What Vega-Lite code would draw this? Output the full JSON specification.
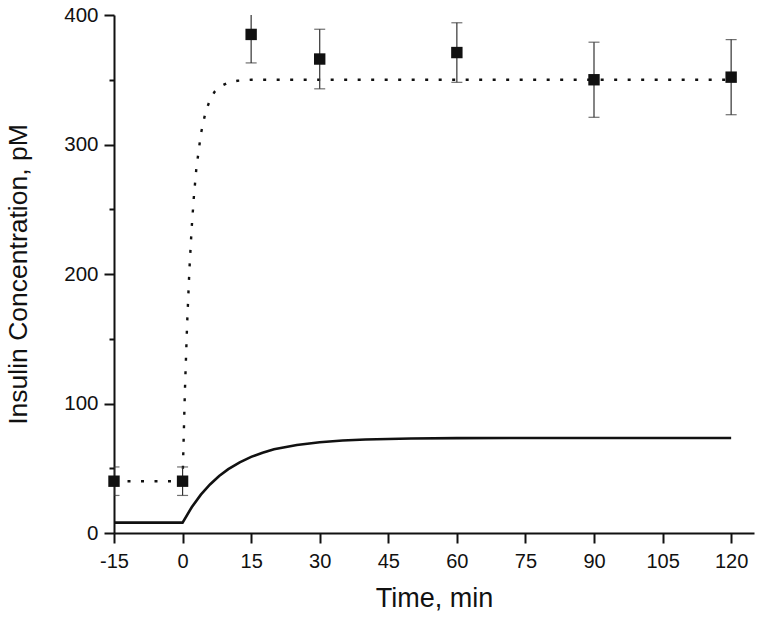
{
  "$schema": "https://vega.github.io/schema/vega-lite/v6.json",
  "autosize": "none",
  "width": 640,
  "height": 518,
  "padding": {"left": 114, "top": 15, "right": 8, "bottom": 87},
  "background": "white",
  "config": {
    "view": {"stroke": null}
  },
  "datasets": {
    "fast": [
      {"t": -15, "v": 40}, {"t": 0, "v": 40}, {"t": 0.5, "v": 108.6}, {"t": 1, "v": 161.9},
      {"t": 1.5, "v": 203.6}, {"t": 2, "v": 236}, {"t": 2.5, "v": 261}, {"t": 3, "v": 280.9},
      {"t": 4, "v": 308.1}, {"t": 5, "v": 324.6}, {"t": 6, "v": 334.6}, {"t": 7, "v": 340.7},
      {"t": 8, "v": 344.3}, {"t": 10, "v": 347.9}, {"t": 12, "v": 349.2}, {"t": 15, "v": 350},
      {"t": 120, "v": 350}
    ],
    "slow": [
      {"t": -15, "v": 8}, {"t": 0, "v": 8}, {"t": 2, "v": 19.9}, {"t": 4, "v": 29.6},
      {"t": 6, "v": 37.5}, {"t": 8, "v": 44}, {"t": 10, "v": 49.3}, {"t": 12.5, "v": 54.6},
      {"t": 15, "v": 58.8}, {"t": 17.5, "v": 62}, {"t": 20, "v": 64.6}, {"t": 25, "v": 68},
      {"t": 30, "v": 70.1}, {"t": 35, "v": 71.4}, {"t": 40, "v": 72.2}, {"t": 50, "v": 73},
      {"t": 60, "v": 73.3}, {"t": 80, "v": 73.4}, {"t": 120, "v": 73.4}
    ],
    "obs": [
      {"t": -15, "v": 40, "lo": 29, "hi": 51},
      {"t": 0, "v": 40, "lo": 29, "hi": 51},
      {"t": 15, "v": 385, "lo": 363, "hi": 408},
      {"t": 30, "v": 366, "lo": 343, "hi": 389},
      {"t": 60, "v": 371, "lo": 348, "hi": 394},
      {"t": 90, "v": 350, "lo": 321, "hi": 379},
      {"t": 120, "v": 352, "lo": 323, "hi": 381}
    ]
  },
  "layer": [
    {
      "data": {"name": "fast"},
      "mark": {"type": "line", "color": "#111", "strokeWidth": 2.4, "strokeDash": [3, 10.5], "strokeCap": "butt", "clip": true},
      "encoding": {
        "x": {"field": "t", "type": "quantitative",
          "scale": {"domain": [-15, 125], "nice": false, "zero": false},
          "axis": {
            "title": "Time, min", "titlePadding": 14,
            "titleFont": "Liberation Sans", "titleFontSize": 27, "titleFontWeight": "normal", "titleColor": "#111",
            "labelFont": "Liberation Sans", "labelFontSize": 20, "labelColor": "#111",
            "domainColor": "#111", "domainWidth": 2, "tickColor": "#111", "tickWidth": 2, "grid": false,
            "values": [-15, -7.5, 0, 7.5, 15, 22.5, 30, 37.5, 45, 52.5, 60, 67.5, 75, 82.5, 90, 97.5, 105, 112.5, 120],
            "labelExpr": "datum.value % 15 === 0 ? toString(datum.value) : ''",
            "tickSize": {"condition": {"test": "datum.value % 15 === 0", "value": 10}, "value": 5},
            "labelPadding": 8, "labelFlush": false, "labelOverlap": false
          }
        },
        "y": {"field": "v", "type": "quantitative",
          "scale": {"domain": [0, 400], "nice": false},
          "axis": {
            "title": "Insulin Concentration, pM", "titlePadding": 31,
            "titleFont": "Liberation Sans", "titleFontSize": 26.5, "titleFontWeight": "normal", "titleColor": "#111",
            "labelFont": "Liberation Sans", "labelFontSize": 20.5, "labelColor": "#111",
            "domainColor": "#111", "domainWidth": 2, "tickColor": "#111", "tickWidth": 2, "grid": false,
            "values": [0, 50, 100, 150, 200, 250, 300, 350, 400],
            "labelExpr": "datum.value % 100 === 0 ? toString(datum.value) : ''",
            "tickSize": {"condition": {"test": "datum.value % 100 === 0", "value": 10}, "value": 5},
            "labelPadding": 6, "labelFlush": false, "labelOverlap": false
          }
        }
      }
    },
    {
      "data": {"name": "slow"},
      "mark": {"type": "line", "color": "#111", "strokeWidth": 2.6, "clip": true},
      "encoding": {
        "x": {"field": "t", "type": "quantitative"},
        "y": {"field": "v", "type": "quantitative"}
      }
    },
    {
      "data": {"name": "obs"},
      "mark": {"type": "rule", "color": "#333", "strokeWidth": 1.2, "clip": true},
      "encoding": {
        "x": {"field": "t", "type": "quantitative"},
        "y": {"field": "lo", "type": "quantitative"},
        "y2": {"field": "hi"}
      }
    },
    {
      "data": {"name": "obs"},
      "mark": {"type": "tick", "orient": "horizontal", "color": "#333", "size": 11, "thickness": 1.2, "clip": true},
      "encoding": {
        "x": {"field": "t", "type": "quantitative"},
        "y": {"field": "lo", "type": "quantitative"}
      }
    },
    {
      "data": {"name": "obs"},
      "mark": {"type": "tick", "orient": "horizontal", "color": "#333", "size": 11, "thickness": 1.2, "clip": true},
      "encoding": {
        "x": {"field": "t", "type": "quantitative"},
        "y": {"field": "hi", "type": "quantitative"}
      }
    },
    {
      "data": {"name": "obs"},
      "mark": {"type": "square", "color": "#111", "opacity": 1, "filled": true, "size": 130},
      "encoding": {
        "x": {"field": "t", "type": "quantitative"},
        "y": {"field": "v", "type": "quantitative"}
      }
    }
  ]
}
